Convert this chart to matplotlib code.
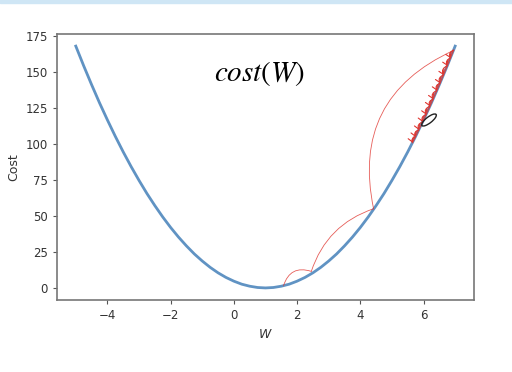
import matplotlib.pyplot as plt
from matplotlib.patches import Ellipse, Rectangle

# cost curve (W from -5 to 7, step 0.25)
w_vals = [-5.0, -4.75, -4.5, -4.25, -4.0, -3.75, -3.5, -3.25, -3.0, -2.75, -2.5, -2.25,
          -2.0, -1.75, -1.5, -1.25, -1.0, -0.75, -0.5, -0.25, 0.0, 0.25, 0.5, 0.75, 1.0,
          1.25, 1.5, 1.75, 2.0, 2.25, 2.5, 2.75, 3.0, 3.25, 3.5, 3.75, 4.0, 4.25, 4.5,
          4.75, 5.0, 5.25, 5.5, 5.75, 6.0, 6.25, 6.5, 6.75, 7.0]
cost_half = [168.0, 154.3, 141.2, 128.6, 116.7, 105.3, 94.5, 84.3, 74.7, 65.6, 57.2, 49.3,
             42.0, 35.3, 29.2, 23.6, 18.7, 14.3, 10.5, 7.3, 4.7, 2.6, 1.2, 0.3]
cost_vals = cost_half + [0.0] + cost_half[::-1]

# big gradient-descent jumps (red pen)
big_w = [6.95, 4.42, 2.45, 1.57]
big_cost = [165.0, 55.0, 11.5, 1.5]

# small steps near the top (red pen)
small_w = [6.95, 6.85, 6.75, 6.63, 6.52, 6.42, 6.3, 6.2, 6.08, 5.97, 5.85, 5.74, 5.65]
small_cost = [165.2, 159.7, 154.3, 147.9, 142.2, 137.1, 131.1, 126.2, 120.4, 115.3,
              109.8, 104.9, 100.9]

fig = plt.figure(figsize=(5.12, 3.72), dpi=100)
ax = fig.add_axes([0.111, 0.1935, 0.815, 0.715])

ax.plot(w_vals, cost_vals, color='#4f87bd', lw=2.0, alpha=0.9)

big_rads = [0.4, 0.25, 0.5]
for i in range(len(big_w) - 1):
    ax.annotate('', xy=(big_w[i + 1], big_cost[i + 1]), xytext=(big_w[i], big_cost[i]),
                arrowprops=dict(arrowstyle='-', color='#e0352f', lw=0.6, alpha=0.8,
                                connectionstyle='arc3,rad=%.2f' % big_rads[i],
                                shrinkA=0, shrinkB=0))

ax.plot(small_w, small_cost, color='#e0352f', lw=0.9, alpha=0.85)
for i in range(len(small_w) - 1):
    ax.annotate('', xy=(small_w[i + 1], small_cost[i + 1]), xytext=(small_w[i], small_cost[i]),
                arrowprops=dict(arrowstyle='->,head_length=0.3,head_width=0.2',
                                color='#e0352f', lw=0.8,
                                connectionstyle='arc3,rad=0.5',
                                shrinkA=0, shrinkB=0))

ax.text(0.82, 149, '$cost(W)$', fontsize=21, ha='center', va='center',
        math_fontfamily='stix')

ax.set_xlim(-5.6, 7.6)
ax.set_ylim(-8.4, 176.4)
ax.set_xticks([-4, -2, 0, 2, 4, 6])
ax.set_yticks([0, 25, 50, 75, 100, 125, 150, 175])
ax.tick_params(labelsize=8.5, colors='#555555', labelcolor='#333333', length=3)
for s in ax.spines.values():
    s.set_color('#777777')
    s.set_linewidth(1.2)
ax.set_xlabel('$W$', fontsize=9, color='#333333')
ax.set_ylabel('Cost', fontsize=9, color='#333333')

# pen cursor and top screen strip
fig.patches.append(Ellipse((4.29, 2.52), 0.18, 0.06, angle=38, fill=False, ec='#222222',
                           lw=1.0, transform=fig.dpi_scale_trans))
fig.patches.append(Rectangle((0, 0.992), 1, 0.008, color='#cfe6f5',
                             transform=fig.transFigure))

fig.savefig('out.png', dpi=100)
